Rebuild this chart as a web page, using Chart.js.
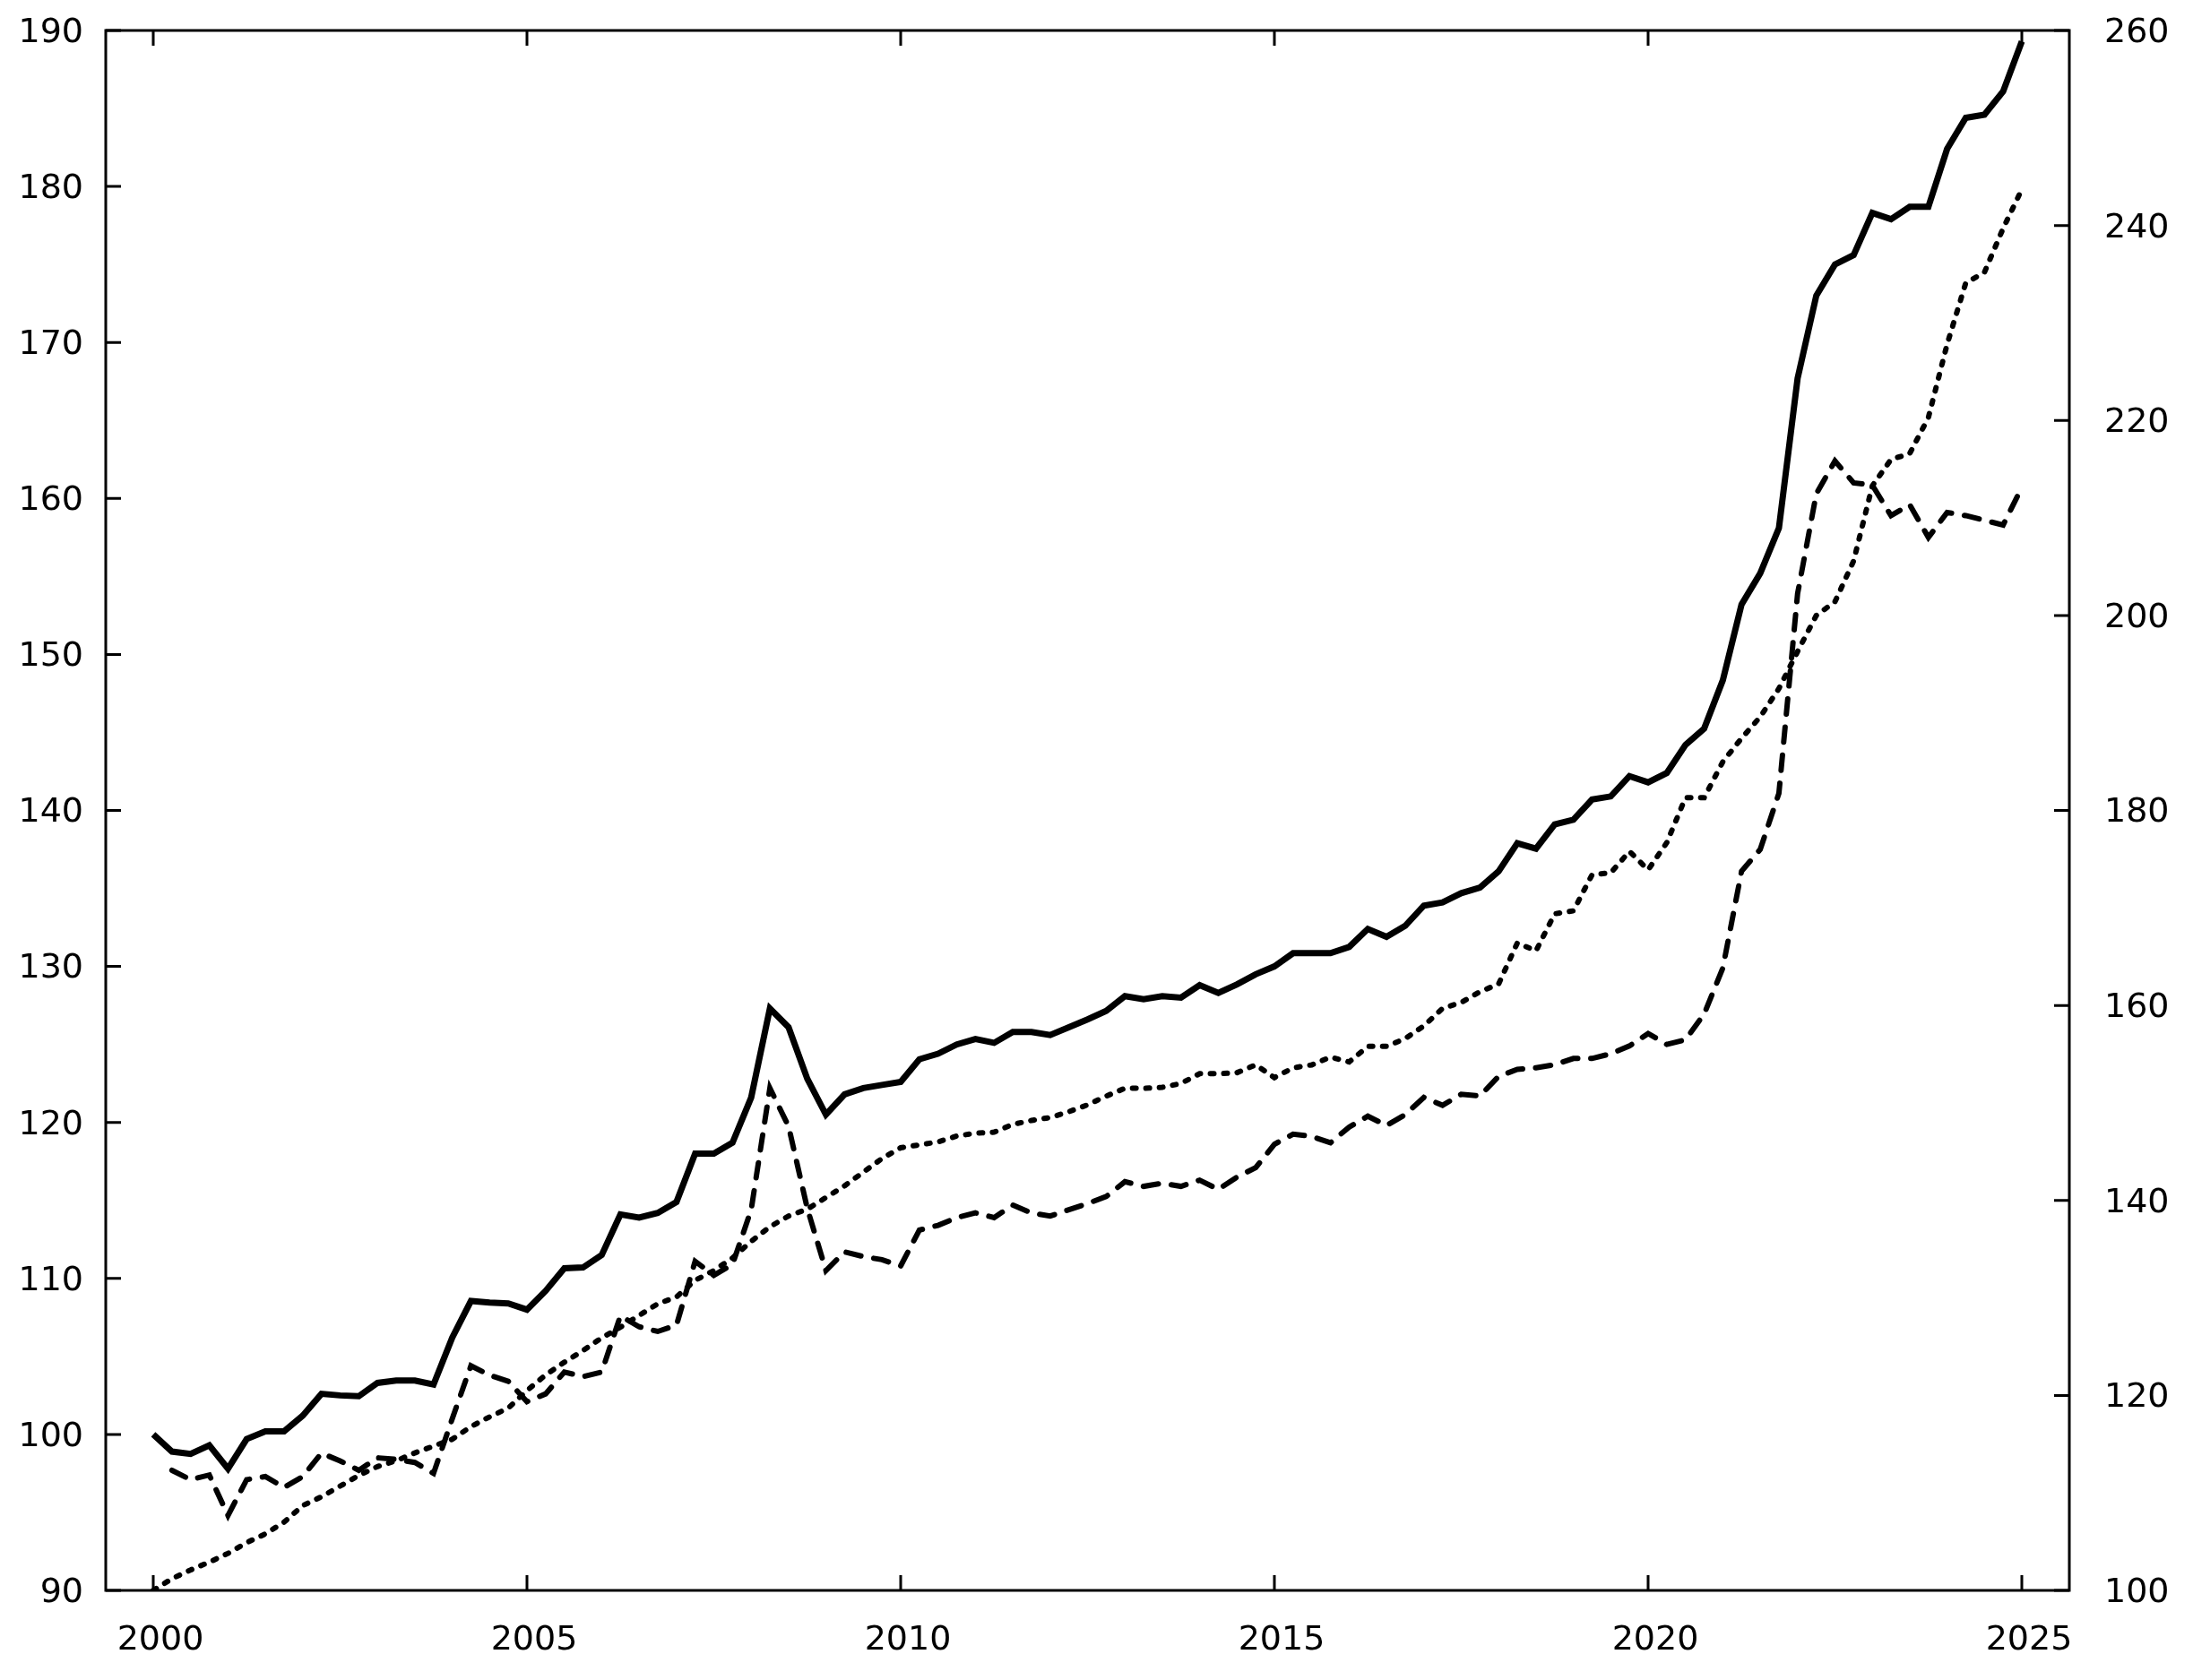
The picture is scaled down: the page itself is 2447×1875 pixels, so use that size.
<!DOCTYPE html>
<html>
<head>
<meta charset="utf-8">
<title>Índices trimestrales</title>
<script src="https://cdn.jsdelivr.net/npm/chart.js@4.4.1/dist/chart.umd.min.js"></script>
<style>
  html, body { margin: 0; padding: 0; background: #fff; overflow: hidden; }
  #contenedor { width: 2447px; height: 1875px; position: relative; }
</style>
</head>
<body>
<div id="contenedor"><canvas id="grafica"></canvas></div>
<script>
// Trimestres 2000T1 .. 2025T1
const quarters = Array.from({length: 101}, (_, i) => 2000 + i / 4);

// Serie continua (eje izquierdo)
const serieContinua = [
    100.0, 98.9, 98.75, 99.3,
    97.8, 99.7, 100.2, 100.2,
    101.2, 102.6, 102.5, 102.45,
    103.3, 103.45, 103.45, 103.2,
    106.2, 108.55, 108.45, 108.4,
    108.0, 109.2, 110.65, 110.7,
    111.5, 114.1, 113.9, 114.2,
    114.9, 118.0, 118.0, 118.7,
    121.6, 127.3, 126.1, 122.8,
    120.5, 121.8, 122.2, 122.4,
    122.6, 124.05, 124.4, 125.0,
    125.35, 125.1, 125.8, 125.8,
    125.6, 126.1, 126.6, 127.15,
    128.1, 127.9, 128.1, 128.0,
    128.8, 128.3, 128.85, 129.5,
    130.0, 130.85, 130.85, 130.85,
    131.25, 132.4, 131.9, 132.6,
    133.9, 134.1, 134.7, 135.05,
    136.1, 137.9, 137.55, 139.1,
    139.4, 140.7, 140.9, 142.2,
    141.8, 142.4, 144.2, 145.25,
    148.35, 153.2, 155.2, 158.1,
    167.7, 173.0, 175.0, 175.6,
    178.3, 177.9, 178.7, 178.7,
    182.4, 184.4, 184.6, 186.1,
    189.3
];

// Serie discontinua (eje izquierdo), empieza en 2000T2
const serieDiscontinua = [
    null, 97.7, 97.1, 97.4,
    94.8, 97.1, 97.3, 96.6,
    97.3, 98.8, 98.3, 97.7,
    98.5, 98.4, 98.2, 97.5,
    101.0, 104.4, 103.8, 103.4,
    102.1, 102.6, 104.0, 103.7,
    104.0, 107.6, 106.9, 106.6,
    107.0, 111.1, 110.2, 110.9,
    114.4, 122.2, 119.75, 114.5,
    110.5, 111.7, 111.4, 111.2,
    110.8, 113.1, 113.4, 113.9,
    114.2, 113.9, 114.7, 114.2,
    114.0, 114.4, 114.8, 115.25,
    116.2, 115.9, 116.1, 115.9,
    116.3, 115.7, 116.5, 117.1,
    118.6, 119.25, 119.1, 118.7,
    119.7, 120.4, 119.8, 120.5,
    121.6, 121.1, 121.8, 121.7,
    122.95, 123.4, 123.5, 123.7,
    124.1, 124.1, 124.4, 124.9,
    125.7, 125.0, 125.3, 126.95,
    129.9, 136.1, 137.5, 141.1,
    153.9, 160.3, 162.4, 161.0,
    160.85, 158.9, 159.6, 157.5,
    159.1, 158.9, 158.6, 158.3,
    160.7
];

// Serie punteada (eje derecho)
const seriePunteada = [
    100.0, 101.2, 102.1, 102.9,
    103.8, 104.9, 105.8, 107.0,
    108.7, 109.6, 110.7, 111.8,
    112.7, 113.3, 114.1, 114.8,
    115.5, 116.8, 117.8, 118.7,
    120.5, 122.1, 123.4, 124.6,
    125.9, 127.0, 128.2, 129.4,
    130.1, 131.8, 132.8, 134.1,
    135.8, 137.3, 138.4, 139.1,
    140.3, 141.5, 142.9, 144.3,
    145.4, 145.7, 146.0, 146.6,
    146.9, 147.0, 147.8, 148.2,
    148.5, 149.1, 149.8, 150.7,
    151.5, 151.5, 151.6, 152.0,
    153.0, 153.0, 153.1, 153.9,
    152.6, 153.6, 153.9, 154.7,
    154.2, 155.8, 155.8, 156.6,
    157.9, 159.7, 160.3, 161.4,
    162.2, 166.4, 165.6, 169.4,
    169.7, 173.4, 173.6, 175.8,
    173.9, 176.7, 181.3, 181.3,
    185.0, 187.4, 189.6, 192.5,
    196.3, 200.0, 201.4, 205.6,
    213.3, 216.0, 216.6, 220.3,
    227.8, 234.1, 235.2, 239.7,
    243.7
];

const yearTicks = [2000, 2005, 2010, 2015, 2020, 2025];
const leftTicks = [90, 100, 110, 120, 130, 140, 150, 160, 170, 180, 190];
const rightTicks = [100, 120, 140, 160, 180, 200, 220, 240, 260];

const fuente = { family: "'DejaVu Sans', sans-serif", size: 38 };

/**
 * @brief Une trimestres y valores en puntos {x, y}.
 */
function toPoints(values) {
    return quarters.map((q, i) => ({ x: q, y: values[i] }));
}

/**
 * @brief Fija el tamaño del eje y quita el relleno que añaden las etiquetas.
 */
function fijarEje(size) {
    return axis => {
        if (axis.isHorizontal()) axis.height = size; else axis.width = size;
        axis.paddingTop = 0;
        axis.paddingBottom = 0;
        axis.paddingLeft = 0;
        axis.paddingRight = 0;
    };
}

/**
 * @brief Marcas hacia dentro y marco completo, al estilo gnuplot.
 */
const marcasInteriores = {
    id: 'marcasInteriores',
    afterDatasetsDraw(chart) {
        const { ctx, chartArea: a, scales } = chart;
        const largo = 17;
        ctx.save();
        ctx.strokeStyle = '#000';
        ctx.lineWidth = 3;
        ctx.beginPath();
        scales.x.ticks.forEach(t => {
            const px = scales.x.getPixelForValue(t.value);
            ctx.moveTo(px, a.bottom); ctx.lineTo(px, a.bottom - largo);
            ctx.moveTo(px, a.top); ctx.lineTo(px, a.top + largo);
        });
        scales.y.ticks.forEach(t => {
            const py = scales.y.getPixelForValue(t.value);
            ctx.moveTo(a.left, py); ctx.lineTo(a.left + largo, py);
        });
        scales.y2.ticks.forEach(t => {
            const py = scales.y2.getPixelForValue(t.value);
            ctx.moveTo(a.right, py); ctx.lineTo(a.right - largo, py);
        });
        ctx.stroke();
        ctx.strokeRect(a.left, a.top, a.right - a.left, a.bottom - a.top);
        ctx.restore();
    }
};

const ctx = document.getElementById('grafica').getContext('2d');

const grafica = new Chart(ctx, {
    type: 'line',
    data: {
        datasets: [
            {
                label: 'Continua',
                data: toPoints(serieContinua),
                yAxisID: 'y',
                borderColor: '#000',
                borderWidth: 7,
                pointRadius: 0,
                tension: 0
            },
            {
                label: 'Discontinua',
                data: toPoints(serieDiscontinua),
                yAxisID: 'y',
                borderColor: '#000',
                borderWidth: 6,
                borderDash: [17, 14.5],
                borderCapStyle: 'round',
                pointRadius: 0,
                tension: 0
            },
            {
                label: 'Punteada',
                data: toPoints(seriePunteada),
                yAxisID: 'y2',
                borderColor: '#000',
                borderWidth: 6,
                borderDash: [4, 11],
                borderCapStyle: 'round',
                pointRadius: 0,
                tension: 0
            }
        ]
    },
    options: {
        responsive: true,
        maintainAspectRatio: false,
        animation: false,
        events: [],
        layout: { padding: { top: 34, left: 0, right: 0, bottom: 0 } },
        plugins: { legend: { display: false }, tooltip: { enabled: false } },
        scales: {
            x: {
                type: 'linear',
                position: 'bottom',
                min: 1999.3645,
                max: 2025.6355,
                afterBuildTicks: axis => { axis.ticks = yearTicks.map(v => ({ value: v })); },
                afterFit: fijarEje(100),
                grid: { display: false, drawTicks: false },
                border: { display: false },
                ticks: {
                    font: fuente, color: '#000', padding: 33, labelOffset: 8,
                    maxRotation: 0, autoSkip: false,
                    callback: v => String(v)
                }
            },
            y: {
                type: 'linear',
                position: 'left',
                min: 90,
                max: 190,
                afterBuildTicks: axis => { axis.ticks = leftTicks.map(v => ({ value: v })); },
                afterFit: fijarEje(118),
                grid: { display: false, drawTicks: false },
                border: { display: false },
                ticks: { font: fuente, color: '#000', padding: 25, labelOffset: 3 }
            },
            y2: {
                type: 'linear',
                position: 'right',
                min: 100,
                max: 260,
                afterBuildTicks: axis => { axis.ticks = rightTicks.map(v => ({ value: v })); },
                afterFit: fijarEje(138),
                grid: { display: false, drawTicks: false },
                border: { display: false },
                ticks: { font: fuente, color: '#000', padding: 39, labelOffset: 3 }
            }
        }
    },
    plugins: [marcasInteriores]
});
</script>
</body>
</html>
